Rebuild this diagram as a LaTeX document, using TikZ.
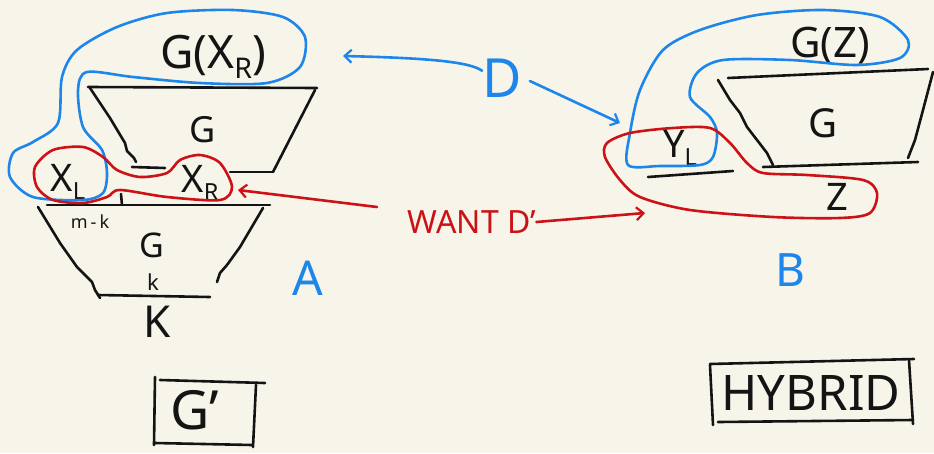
\documentclass[tikz,border=0pt]{standalone}
\usepackage{fontspec}
\usepackage{graphicx}
\setmainfont{Noto Sans}
\usetikzlibrary{arrows.meta}
\definecolor{paper}{RGB}{247,245,234}
\definecolor{ink}{RGB}{20,20,20}
\definecolor{penblue}{RGB}{28,134,234}
\definecolor{penred}{RGB}{204,18,22}
% hand-lettering helpers
\newcommand{\hw}[1]{\fontsize{#1}{#1}\selectfont}
\newcommand{\lowsub}[1]{\raisebox{-.22em}{\scalebox{.62}{#1}}}

\begin{document}
\begin{tikzpicture}[x=1pt,y=-1pt,
  stroke/.style={line width=2.6pt,line cap=round,line join=round},
  inkline/.style={stroke,draw=ink},
  blueline/.style={stroke,draw=penblue},
  redline/.style={stroke,draw=penred},
  lbl/.style={inner sep=0pt,text=ink},
  bluelbl/.style={inner sep=0pt,text=penblue},
  redlbl/.style={inner sep=0pt,text=penred},
  pointer/.style={-{Straight Barb[length=7pt,width=13pt,line width=2.2pt]}}]

\fill[paper] (0,0) rectangle (934,453);
\useasboundingbox (0,0) rectangle (934,453);

% ---------- left construction (A) ----------
% upper generator G
\draw[inkline] (88,87) -- (317,88);
\draw[inkline] (90,88) -- (110,118) -- (125,143) -- (127,151) -- (134,158) -- (136,162);
\draw[inkline] (315,90) -- (273,172);
\draw[inkline] (132,167) -- (165,168);
\draw[inkline] (230,172) -- (273,172);
% lower generator G_k
\draw[inkline] (47,205) -- (270,205);
\draw[inkline] (121,194) -- (122,205);
\draw[inkline] (38,207) -- (60,243) -- (77,267) -- (92,282) -- (95,290) -- (100,298);
\draw[inkline] (263,208) -- (240,247) -- (227,265) -- (220,273) -- (217,282);
\draw[inkline] (98,295) -- (210,297);

\node[lbl,font=\hw{46}] (gxr) at (213,57) {G(X\lowsub{R})};
\node[lbl,font=\hw{36}] (gup) at (203,130) {G};
\node[lbl,font=\hw{38}] (xl) at (68,182) {X\lowsub{L}};
\node[lbl,font=\hw{38}] (xr) at (200,183) {X\lowsub{R}};
\node[lbl,font=\hw{18}] (mk) at (90,222) {m\,-\,k};
\node[lbl,font=\hw{34}] (glow) at (152,245) {G};
\node[lbl,font=\hw{22}] (ksub) at (153,282) {k};
\node[lbl,font=\hw{44}] (kout) at (157,322) {K};
\node[bluelbl,font=\hw{48}] (alabel) at (308,278) {A};

% selections
\draw[blueline] plot[smooth cycle] coordinates {(33,142) (58,123) (62,77) (77,50) (117,27) (167,13) (233,10) (283,17) (305,37) (300,67) (267,83) (200,83) (133,77) (87,72) (78,90) (83,127) (102,150) (107,173) (103,193) (83,200) (33,197) (10,177) (13,153)};
\draw[redline] plot[smooth cycle] coordinates {(53,150) (83,147) (103,157) (117,170) (140,177) (167,173) (180,160) (200,155) (220,163) (232,187) (220,200) (167,197) (120,190) (107,197) (83,203) (53,200) (37,187) (35,167)};

% G' box
\draw[inkline] (155,377) -- (154,445);
\draw[inkline] (160,380) -- (265,383);
\draw[inkline] (256,385) -- (253,447);
\draw[inkline] (155,443) -- (252,445);
\node[lbl,font=\hw{54}] (gprime) at (195,410) {G'};

% ---------- right construction (B) ----------
\draw[inkline] (728,78) -- (928,69);
\draw[inkline] (718,80) -- (730,100) -- (740,113) -- (747,127) -- (757,140) -- (767,153) -- (773,165);
\draw[inkline] (933,72) -- (923,110) -- (915,140) -- (908,158);
\draw[inkline] (763,167) -- (918,162);
\draw[inkline] (648,177) -- (733,171);

\node[lbl,font=\hw{42}] (gz) at (830,46) {G(Z)};
\node[lbl,font=\hw{40}] (gright) at (823,123) {G};
\node[lbl,font=\hw{38}] (yl) at (680,148) {Y\lowsub{L}};
\node[lbl,font=\hw{38}] (z) at (837,197) {Z};
\node[bluelbl,font=\hw{46}] (blabel) at (790,270) {B};

\draw[blueline] plot[smooth cycle] coordinates {(628,165) (630,133) (640,90) (663,50) (700,30) (757,15) (823,10) (880,17) (908,40) (900,58) (857,65) (790,60) (723,60) (697,73) (690,97) (710,117) (717,133) (713,157) (700,165) (660,166)};
\draw[redline] plot[smooth cycle] coordinates {(607,143) (630,133) (673,128) (710,128) (730,143) (747,163) (763,173) (807,175) (863,180) (877,193) (870,213) (840,218) (773,217) (690,210) (640,197) (620,180) (605,157)};

% HYBRID box
\draw[inkline] (710,365) -- (713,425);
\draw[inkline] (710,364) -- (914,359);
\draw[inkline] (909,360) -- (913,424);
\draw[inkline] (718,422) -- (913,420);
\node[lbl,font=\hw{49}] (hybrid) at (811,393) {HYBRID};

% ---------- middle: the map D and the wanted D' ----------
\node[bluelbl,font=\hw{54}] (dmap) at (502,78) {D};
\coordinate (toA) at (343,56);
\coordinate (toB) at (620,123);
\draw[blueline,pointer] (dmap.160) .. controls (470,62) and (430,58) .. (toA);
\draw[blueline,pointer] (dmap.east) ++(8,3) -- (toB);

\node[redlbl,font=\hw{32}] (want) at (472,222) {WANT D'};
\coordinate (fromwant) at (377,207);
\coordinate (toXR) at (238,190);
\coordinate (toZ) at (645,213);
\draw[redline,pointer] (fromwant) -- (toXR);
\draw[redline,pointer] (want.east) -- (toZ);
\end{tikzpicture}
\end{document}
